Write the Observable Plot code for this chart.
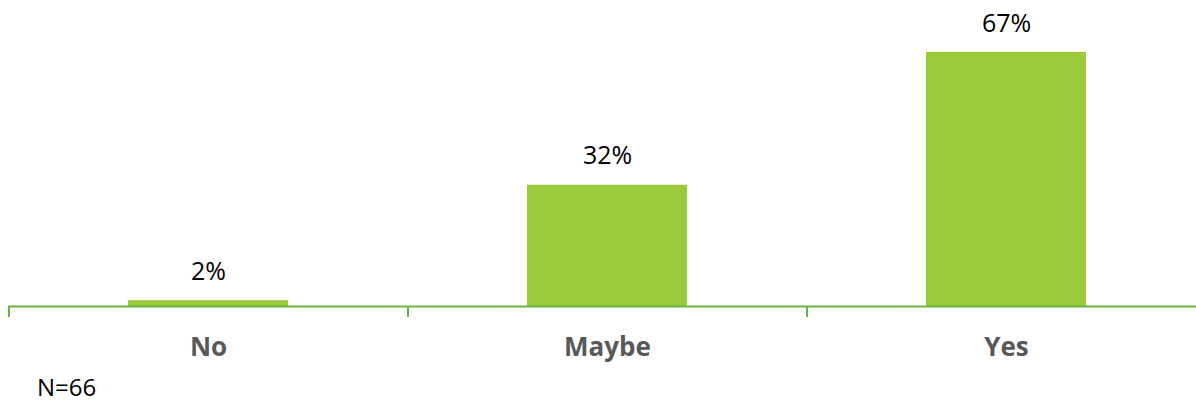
<!DOCTYPE html>
<html>
<head>
<meta charset="utf-8">
<script src="https://cdn.jsdelivr.net/npm/d3@7"></script>
<script src="https://cdn.jsdelivr.net/npm/@observablehq/plot@0.6"></script>
<style>
  html, body { margin: 0; padding: 0; background: #fff; overflow: hidden; }
  #chart svg { display: block; }
  #caption { font-family: "Open Sans", sans-serif; font-size: 24px; line-height: 26px; height: 26px; color: #000; padding: 4px 0 0 37px; }
</style>
</head>
<body>
<div id="chart"></div>
<div id="caption"></div>
<script>
const categories = ["No", "Maybe", "Yes"];
const counts = [1, 21, 44];
const total = 66;
const percents = counts.map(c => c / total * 100);
const caption = "N=66";

const data = categories.map((c, i) => ({category: c, value: percents[i]}));

const W = 1196, H = 370;
const bandRange = [8, 1205];
const step = (bandRange[1] - bandRange[0]) / categories.length;
const axisColor = "#6DB33F";
const barColor = "#9BCB3B";

const chart = Plot.plot({
  width: W,
  height: H,
  marginTop: 0,
  marginBottom: 64,
  marginLeft: 8,
  marginRight: 0,
  x: {domain: categories, range: bandRange, paddingInner: 0.6, paddingOuter: 0.3, label: null},
  y: {domain: [0, 66.667], range: [306, 52], axis: null},
  style: {fontFamily: "'Open Sans', sans-serif", background: "#fff", overflow: "visible"},
  marks: [
    Plot.barY(data, {x: "category", y: "value", fill: barColor}),
    Plot.ruleY([0], {stroke: axisColor, strokeWidth: 2}),
    Plot.ruleX(categories, {x: d => d, dx: -step / 2, y1: 0, y2: -2.9, stroke: axisColor, strokeWidth: 2}),
    Plot.ruleX(categories.slice(-1), {x: d => d, dx: step / 2, y1: 0, y2: -2.9, stroke: axisColor, strokeWidth: 2}),
    Plot.text(data, {x: "category", y: "value", text: d => d3.format(".0f")(d.value) + "%", lineAnchor: "bottom", dy: -21, fontSize: 25, fill: "#000"}),
    Plot.axisX({tickSize: 0, tickPadding: 31, fontSize: 26, fontWeight: "bold", fill: "#595959", label: null})
  ]
});
document.getElementById("chart").append(chart);
document.getElementById("caption").textContent = caption;
</script>
</body>
</html>
